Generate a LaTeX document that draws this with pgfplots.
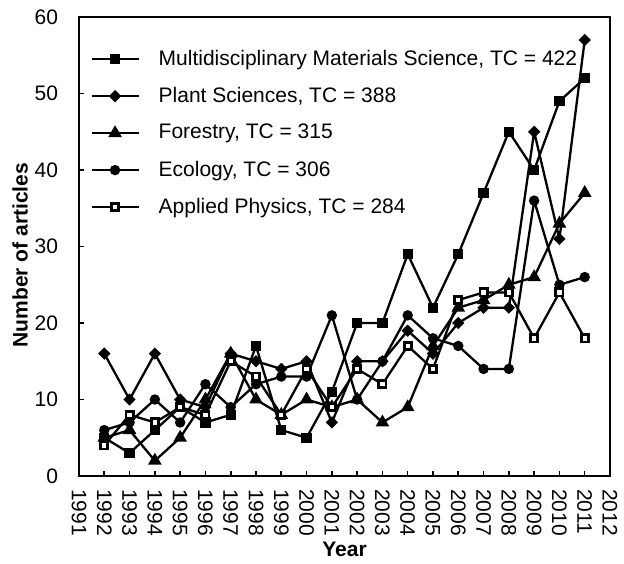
\documentclass[border=0pt]{standalone}
\usepackage{fontspec}
\setmainfont{Liberation Sans}
\usepackage{pgfplots}
\pgfplotsset{compat=1.18}
\begin{document}
\begin{tikzpicture}
\begin{axis}[
  scale only axis, width=265.5pt, height=229.5pt,
  xmin=1991, xmax=2012, ymin=0, ymax=60,
  xtick={1991,...,2012}, ytick={0,10,...,60},
  xtick pos=bottom, ytick pos=left,
  tick align=inside, major tick length=2.5pt,
  axis line style={line width=1pt},
  every tick/.style={black, line width=0.8pt},
  /pgf/number format/assume math mode=true,
  /pgf/number format/1000 sep={},
  tick label style={font=\fontsize{10.5}{12}\selectfont},
  xticklabel style={rotate=-90, anchor=west},
  xticklabel shift=3pt, yticklabel shift=7pt,
  xlabel={Year}, ylabel={Number of articles},
  label style={font=\fontsize{10.5}{12}\selectfont\bfseries},
  xlabel style={at={(axis description cs:0.5,-0.16)}, anchor=center},
  ylabel style={at={(axis description cs:-0.111,0.481)}, anchor=center},
  legend style={draw=none, fill=none, at={(axis description cs:0.0207,0.938)}, anchor=north west,
    inner sep=0pt, row sep=5.5pt, column sep=7.5pt, font=\fontsize{10.5}{12}\selectfont},
  legend cell align=left,
  legend image code/.code={\draw[mark repeat=2, mark phase=2] plot coordinates {(0pt,0pt) (11.75pt,0pt) (23.5pt,0pt)};},
  every axis plot/.append style={black, line width=1.15pt},
]
\addplot[mark=square*, mark size=2pt] coordinates {
(1992,5)(1993,3)(1994,6)(1995,9)(1996,7)(1997,8)(1998,17)(1999,6)(2000,5)(2001,11)
(2002,20)(2003,20)(2004,29)(2005,22)(2006,29)(2007,37)(2008,45)(2009,40)(2010,49)(2011,52)};
\addlegendentry{Multidisciplinary Materials Science, TC = 422}
\addplot[mark=square*, mark size=1.6pt, mark options={rotate=45}] coordinates {
(1992,16)(1993,10)(1994,16)(1995,10)(1996,9)(1997,16)(1998,15)(1999,14)(2000,15)(2001,7)
(2002,15)(2003,15)(2004,19)(2005,16)(2006,20)(2007,22)(2008,22)(2009,45)(2010,31)(2011,57)};
\addlegendentry{Plant Sciences, TC = 388}
\addplot[mark=triangle*, mark size=2.8pt] coordinates {
(1992,5)(1993,6)(1994,2)(1995,5)(1996,10)(1997,16)(1998,10)(1999,8)(2000,10)(2001,9)
(2002,10)(2003,7)(2004,9)(2005,17)(2006,22)(2007,23)(2008,25)(2009,26)(2010,33)(2011,37)};
\addlegendentry{Forestry, TC = 315}
\addplot[mark=*, mark size=2pt] coordinates {
(1992,6)(1993,7)(1994,10)(1995,7)(1996,12)(1997,9)(1998,12)(1999,13)(2000,13)(2001,21)
(2002,10)(2003,15)(2004,21)(2005,18)(2006,17)(2007,14)(2008,14)(2009,36)(2010,25)(2011,26)};
\addlegendentry{Ecology, TC = 306}
\addplot[mark=square*, mark size=1.8pt, mark options={fill=white, line width=1.4pt}] coordinates {
(1992,4)(1993,8)(1994,7)(1995,9)(1996,8)(1997,15)(1998,13)(1999,8)(2000,14)(2001,9)
(2002,14)(2003,12)(2004,17)(2005,14)(2006,23)(2007,24)(2008,24)(2009,18)(2010,24)(2011,18)};
\addlegendentry{Applied Physics, TC = 284}
\end{axis}
\pgfresetboundingbox
\path (current axis.south west) ++(-39.5pt,-43.5pt) rectangle ++(312pt,281.5pt);
\end{tikzpicture}
\end{document}
